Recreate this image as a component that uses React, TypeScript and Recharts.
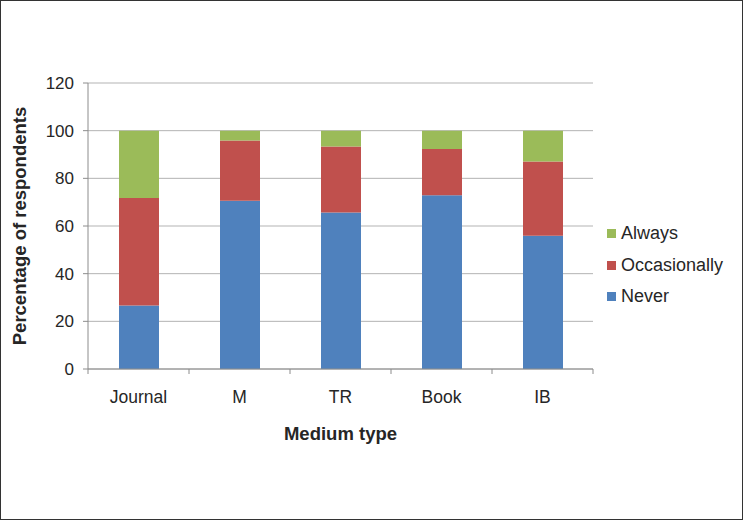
import React from "react";
import {
  BarChart,
  Bar,
  XAxis,
  YAxis,
  CartesianGrid,
  Legend,
  Label,
} from "recharts";

// values (percent of respondents)
const mediumTypes = ["Journal", "M", "TR", "Book", "IB"];
const neverValues = [26.6, 70.6, 65.7, 72.9, 55.9];
const occasionallyValues = [45.2, 25.3, 27.7, 19.4, 31.2];
const alwaysValues = [28.2, 4.1, 6.6, 7.7, 12.9];
const yTicks = [0, 20, 40, 60, 80, 100, 120];
const legendOrder = ["Always", "Occasionally", "Never"];

const data = mediumTypes.map((name, i) => ({
  name,
  Never: neverValues[i],
  Occasionally: occasionallyValues[i],
  Always: alwaysValues[i],
}));

const FONT = '"Liberation Sans", Arial, sans-serif';
const TEXT = "#262626";
const AXIS = "#8c8c8c";

function CategoryTick(props: any) {
  const { x, y, payload, index, visibleTicksCount } = props;
  const half = payload && payload.offset ? payload.offset : 50.5;
  const last = index === visibleTicksCount - 1;
  return (
    <g>
      <line x1={x - half} x2={x - half} y1={y} y2={y + 5} stroke={AXIS} />
      {last && <line x1={x + half} x2={x + half} y1={y} y2={y + 5} stroke={AXIS} />}
      <text x={x} y={y + 34} textAnchor="middle" fill={TEXT} fontSize={17.5} fontFamily={FONT}>
        {payload.value}
      </text>
    </g>
  );
}

function LegendBox({ payload }: any) {
  const items = [...(payload || [])].sort(
    (a: any, b: any) => legendOrder.indexOf(a.value) - legendOrder.indexOf(b.value)
  );
  return (
    <div style={{ fontFamily: FONT, fontSize: 18, color: TEXT }}>
      {items.map((it: any) => (
        <div key={it.value} style={{ display: "flex", alignItems: "center", height: 31.5 }}>
          <span style={{ width: 9, height: 9, background: it.color, marginRight: 5, display: "inline-block" }} />
          <span>{it.value}</span>
        </div>
      ))}
    </div>
  );
}

export default function App() {
  return (
    <div style={{ position: "absolute", left: 0, top: 0, width: 743, height: 520, background: "#fff" }}>
      <BarChart
        width={743}
        height={520}
        data={data}
        barSize={40}
        margin={{ top: 83, right: 150, left: 0, bottom: 71 }}
      >
        <CartesianGrid vertical={false} stroke="#b3b3b3" />
        <XAxis
          dataKey="name"
          height={80}
          axisLine={{ stroke: AXIS }}
          tickLine={false}
          tickSize={0}
          tickMargin={0}
          interval={0}
          tick={<CategoryTick />}
        >
          <Label
            content={({ viewBox }: any) => (
              <text
                x={viewBox.x + viewBox.width / 2}
                y={440}
                textAnchor="middle"
                fontWeight="bold"
                fontSize={18.5}
                fontFamily={FONT}
                fill={TEXT}
              >
                Medium type
              </text>
            )}
          />
        </XAxis>
        <YAxis
          width={88}
          domain={[0, 120]}
          ticks={yTicks}
          interval={0}
          axisLine={{ stroke: AXIS }}
          tickLine={{ stroke: AXIS }}
          tickSize={5}
          tickMargin={9}
          tick={{ fill: TEXT, fontSize: 17, fontFamily: FONT }}
        >
          <Label
            content={({ viewBox }: any) => {
              const cy = viewBox.y + viewBox.height / 2;
              return (
                <text
                  x={26}
                  y={cy}
                  transform={`rotate(-90 26 ${cy})`}
                  textAnchor="middle"
                  fontWeight="bold"
                  fontSize={18.5}
                  fontFamily={FONT}
                  fill={TEXT}
                >
                  Percentage of respondents
                </text>
              );
            }}
          />
        </YAxis>
        <Legend
          layout="vertical"
          align="center"
          verticalAlign="middle"
          content={<LegendBox />}
          wrapperStyle={{ left: 607, top: 218, width: 135 }}
        />
        <Bar dataKey="Never" stackId="s" fill="#4f81bd" isAnimationActive={false} />
        <Bar dataKey="Occasionally" stackId="s" fill="#c0504d" isAnimationActive={false} />
        <Bar dataKey="Always" stackId="s" fill="#9bbb59" isAnimationActive={false} />
      </BarChart>
      <div
        style={{
          position: "absolute",
          left: 0,
          top: 0,
          width: 743,
          height: 520,
          boxSizing: "border-box",
          border: "1px solid #333",
          pointerEvents: "none",
        }}
      />
    </div>
  );
}
